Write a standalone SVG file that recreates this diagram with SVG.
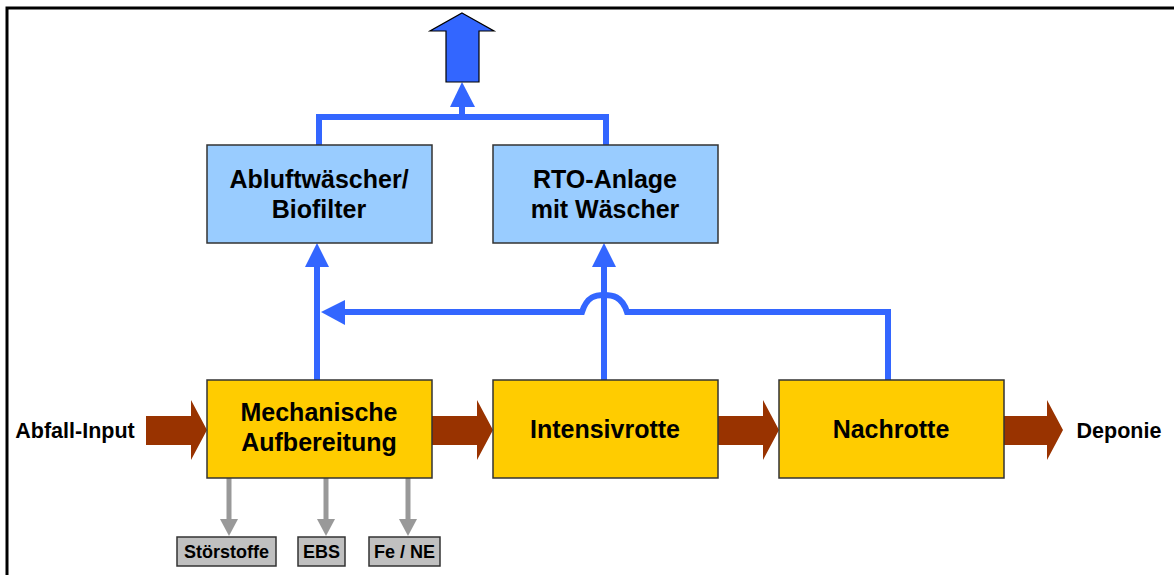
<svg xmlns="http://www.w3.org/2000/svg" width="1174" height="575" viewBox="0 0 1174 575">
<defs>
<style>
.box{stroke:#333;stroke-width:1.5}
.y{fill:#FFCC00}
.b{fill:#99CCFF}
.g{fill:#C0C0C0;stroke:#333;stroke-width:1.5}
.t{font-family:"Liberation Sans",Arial,sans-serif;font-weight:bold;fill:#000;text-anchor:middle}
.bt{font-size:25px}
.lt{font-size:21.5px}
.st{font-size:18px}
.bl{stroke:#3366FF;stroke-width:6;fill:none}
.gl{stroke:#999999;stroke-width:5;fill:none}
.br{fill:#993300}
.ah{fill:#3366FF}
.gh{fill:#999999}
</style>
</defs>
<rect width="1174" height="575" fill="#fff"/>
<path d="M7,575 V8 H1174" fill="none" stroke="#000" stroke-width="3"/>

<g id="connectors">
<polygon class="br" points="146,416 191,416 191,400 207,430 191,460 191,445 146,445"/>
<polygon class="br" points="432,416 477,416 477,400 493,430 477,460 477,445 432,445"/>
<polygon class="br" points="718,416 763,416 763,400 779,430 763,460 763,445 718,445"/>
<polygon class="br" points="1004,416 1047,416 1047,400 1063,430 1047,460 1047,445 1004,445"/>
<path class="bl" d="M317,380 V265"/>
<polygon class="ah" points="317,243 329,267 305,267"/>
<path class="bl" d="M604,380 V265"/>
<polygon class="ah" points="604,243 616,267 592,267"/>
<path class="bl" d="M888,380 V312 H627 C622,296 612,295 604,295 C596,295 587,296 582,312 H343"/>
<polygon class="ah" points="321,312 345,300 345,325"/>
<path class="bl" d="M319,145 V117 H606 V145"/>
<path class="bl" d="M462,117 V105"/>
<polygon class="ah" points="462,82 475,107 450,107"/>
<polygon points="462,13 494,31 479,31 479,82 446,82 446,31 430,31" fill="#3366FF" stroke="#000" stroke-width="1.2"/>
<path class="gl" d="M229,478 V520"/>
<polygon class="gh" points="229,536 238,519 220,519"/>
<path class="gl" d="M326,478 V520"/>
<polygon class="gh" points="326,536 335,519 317,519"/>
<path class="gl" d="M408,478 V520"/>
<polygon class="gh" points="408,536 417,519 399,519"/>
</g>

<g id="abluft">
<rect class="box b" x="207" y="145" width="225" height="98"/>
<text class="t bt" x="319" y="188">Abluftwäscher/</text>
<text class="t bt" x="319" y="218">Biofilter</text>
</g>
<g id="rto">
<rect class="box b" x="493" y="145" width="225" height="98"/>
<text class="t bt" x="605" y="188">RTO-Anlage</text>
<text class="t bt" x="605" y="218">mit Wäscher</text>
</g>
<g id="mech">
<rect class="box y" x="207" y="380" width="225" height="98"/>
<text class="t bt" x="319" y="421">Mechanische</text>
<text class="t bt" x="319" y="451">Aufbereitung</text>
</g>
<g id="intensiv">
<rect class="box y" x="493" y="380" width="225" height="98"/>
<text class="t bt" x="605" y="438">Intensivrotte</text>
</g>
<g id="nach">
<rect class="box y" x="779" y="380" width="225" height="98"/>
<text class="t bt" x="891" y="438">Nachrotte</text>
</g>
<g id="input">
<text class="t lt" x="75" y="438">Abfall-Input</text>
</g>
<g id="deponie">
<text class="t lt" x="1119" y="438">Deponie</text>
</g>
<g id="stoer">
<rect class="g" x="177" y="537" width="99" height="29"/>
<text class="t st" x="226.5" y="558">Störstoffe</text>
</g>
<g id="ebs">
<rect class="g" x="298" y="537" width="47" height="29"/>
<text class="t st" x="321.5" y="558">EBS</text>
</g>
<g id="fene">
<rect class="g" x="369" y="537" width="71" height="29"/>
<text class="t st" x="404.5" y="558">Fe / NE</text>
</g>
</svg>
